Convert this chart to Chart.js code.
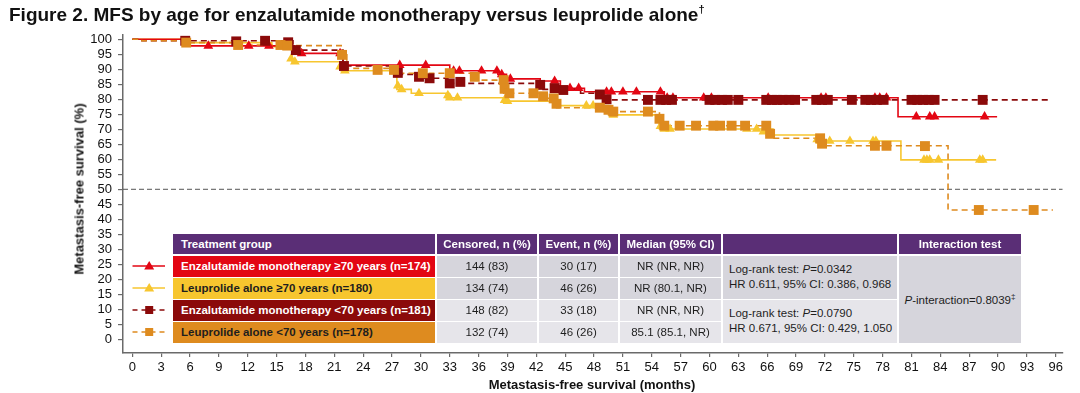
<!DOCTYPE html>
<html>
<head>
<meta charset="utf-8">
<script src="https://cdn.jsdelivr.net/npm/chart.js@4.4.1/dist/chart.umd.min.js"></script>
<style>
  html, body { margin: 0; padding: 0; background: #fff; }
  body { width: 1080px; height: 393px; position: relative; overflow: hidden; font-family: "Liberation Sans", Arial, sans-serif; }
  #c { position: absolute; left: 0; top: 0; }
  #title { position: absolute; left: 9px; top: 4px; font-size: 19px; font-weight: bold; color: #111; white-space: nowrap; }
  #title sup { font-size: 11px; position: relative; top: -1px; }
  .axt { position: absolute; font-size: 13px; font-weight: bold; color: #111; white-space: nowrap; }
  #ytitle { left: 79px; top: 189px; transform: translate(-50%, -50%) rotate(-90deg); }
  #xtitle { left: 592px; top: 384px; transform: translate(-50%, -50%); }
  .cell { position: absolute; box-sizing: border-box; font-size: 11.5px; color: #1e1e1e; display: flex; align-items: center; justify-content: center; white-space: nowrap; }
  .hdr { background: #5a2e76; color: #fff; font-weight: bold; }
  .lbl { justify-content: flex-start; padding-left: 8px; font-weight: bold; }
  .left { justify-content: flex-start; padding-left: 6px; line-height: 15px; }
  svg.leg { position: absolute; }
</style>
</head>
<body>
<canvas id="c" width="1080" height="393"></canvas>
<div id="title">Figure 2. MFS by age for enzalutamide monotherapy versus leuprolide alone<sup>†</sup></div>
<div class="axt" id="ytitle">Metastasis-free survival (%)</div>
<div class="axt" id="xtitle">Metastasis-free survival (months)</div>
<div id="table"></div>
<script>
// ---------- tick labels ----------
const xTicks = [0,3,6,9,12,15,18,21,24,27,30,33,36,39,42,45,48,51,54,57,60,63,66,69,72,75,78,81,84,87,90,93,96];
const yTicks = [0,5,10,15,20,25,30,35,40,45,50,55,60,65,70,75,80,85,90,95,100];

// ---------- KM steps (time, survival after step) ----------
// Enzalutamide monotherapy >=70
const enzaOldT = [0, 5.5, 16.8, 21.9, 33.0, 38.0, 38.9, 42.4, 44.5, 47.0, 55.3, 79.6, 89.9];
const enzaOldS = [100, 97.8, 95.3, 91.4, 89.5, 88.3, 86.8, 86.1, 83.7, 82.5, 80.5, 74.2, 74.2];
// Leuprolide alone >=70
const leupOldT = [0, 5.5, 14.5, 16.6, 21.7, 27.5, 29.0, 32.6, 38.6, 43.8, 49.5, 54.8, 66.6, 71.1, 79.9, 89.8];
const leupOldS = [100, 98.9, 97.5, 92.5, 89.5, 83.3, 82.0, 80.5, 79.4, 77.9, 74.8, 70.1, 68.1, 66.1, 59.8, 59.8];
// Enzalutamide monotherapy <70
const enzaYoungT = [0, 1.0, 16.7, 21.9, 27.5, 29.6, 32.8, 42.3, 46.6, 49.3, 95.4];
const enzaYoungS = [100, 99.5, 96.4, 91.1, 88.3, 87.0, 85.3, 83.3, 82.0, 79.8, 79.8];
// Leuprolide alone <70
const leupYoungT = [0, 1.0, 5.6, 11.0, 16.1, 21.8, 22.3, 27.5, 35.6, 38.6, 42.7, 44.1, 50.0, 54.8, 66.3, 71.5, 84.8, 95.7];
const leupYoungS = [100, 99.5, 98.9, 98.1, 97.9, 94.8, 90.3, 88.7, 86.4, 82.0, 80.3, 77.2, 75.9, 71.2, 67.0, 64.5, 43.1, 43.1];

// ---------- censor marks ----------
const enzaOldCensT = [7.9,12.1,14.2,17.6,21.6,27.8,30.5,33.4,34.0,36.3,37.9,38.4,39.3,43.9,45.5,46.4,49.3,49.8,51.0,52.4,54.9,55.6,56.2,59.4,60.2,66.1,71.6,72.1,77.2,77.7,78.4,81.5,82.9,83.4,88.6];
const enzaOldCensS = [97.8,97.8,97.8,95.3,95.3,91.4,91.4,89.5,89.5,89.5,89.5,88.3,86.8,86.1,83.7,83.7,82.5,82.5,82.5,82.5,82.5,80.5,80.5,80.5,80.5,80.5,80.5,80.5,80.5,80.5,80.5,74.2,74.2,74.2,74.2];
const leupOldCensT = [16.5,16.9,21.6,22.1,27.6,28.0,29.8,32.8,33.0,33.8,38.7,39.0,47.2,47.9,50.0,54.9,55.3,55.9,63.9,64.9,65.6,66.3,71.2,71.5,72.5,74.6,77.0,77.3,82.3,82.6,82.9,83.8,88.1,88.4];
const leupOldCensS = [93.5,92.5,90.9,89.5,84.5,83.3,82.0,81.3,80.5,80.5,79.7,79.4,77.9,77.9,74.8,71.0,70.1,70.1,70.1,70.1,69.2,68.7,66.6,66.1,66.1,66.1,66.1,66.1,59.8,59.8,59.8,59.8,59.8,59.8];
const enzaYoungCensT = [5.5,10.8,13.8,16.2,17.0,22.0,27.6,29.8,30.9,33.0,34.1,42.4,43.9,44.8,48.6,49.3,53.6,54.9,55.5,56.1,60.0,60.6,61.3,61.9,63.0,65.9,66.5,67.0,67.6,68.3,68.9,71.1,71.7,72.3,74.8,76.2,76.8,77.4,78.1,81.0,81.6,82.2,82.8,83.4,88.4];
const enzaYoungCensS = [99.5,99.3,99.5,99.0,96.4,91.1,88.8,87.5,87.0,85.3,85.8,84.8,83.7,83.1,81.6,80.0,79.8,79.8,79.8,79.8,79.8,79.8,79.8,79.8,79.8,79.8,79.8,79.8,79.8,79.8,79.8,79.8,79.8,79.8,79.8,79.8,79.8,79.8,79.8,79.8,79.8,79.8,79.8,79.8,79.8];
const leupYoungCensT = [5.6,11.0,15.4,16.1,21.8,25.5,27.2,30.2,33.0,35.6,38.6,38.7,39.2,41.7,42.7,43.8,44.1,48.6,49.5,50.0,53.6,54.8,55.3,56.9,58.6,60.4,61.1,62.3,63.7,65.9,66.3,71.5,71.7,77.2,78.4,82.4,88.0,93.7];
const leupYoungCensS = [98.9,98.1,98.1,97.9,94.8,89.8,89.8,88.7,88.7,87.5,86.4,83.5,82.0,82.0,81.0,80.3,78.5,77.2,76.5,75.9,75.9,73.5,71.2,71.2,71.2,71.2,71.2,71.2,71.2,71.2,68.5,67.0,65.2,64.5,64.5,64.4,43.1,43.1];

// reference line (50%)
const refX = [-0.97, 96.7];
const refY = [50, 50];

// ---------- table ----------
const groups = ["Enzalutamide monotherapy \u226570 years (n=174)", "Leuprolide alone \u226570 years (n=180)", "Enzalutamide monotherapy <70 years (n=181)", "Leuprolide alone <70 years (n=178)"];
const headers = ["Treatment group", "Censored, n (%)", "Event, n (%)", "Median (95% CI)", "", "Interaction test"];
const censored = ["144 (83)", "134 (74)", "148 (82)", "132 (74)"];
const events = ["30 (17)", "46 (26)", "33 (18)", "46 (26)"];
const medians = ["NR (NR, NR)", "NR (80.1, NR)", "NR (NR, NR)", "85.1 (85.1, NR)"];
const logrankP = ["0.0342", "0.0790"];
const logrankHR = ["HR 0.611, 95% CI: 0.386, 0.968", "HR 0.671, 95% CI: 0.429, 1.050"];
const interactionP = "0.8039";

// ---------- styles ----------
const RED = '#e30613', YEL = '#f7c62f', DRED = '#8b0a0a', ORG = '#de8b1f';
const colours = [RED, YEL, DRED, ORG];
const textCols = ['#fff', '#1e1e1e', '#fff', '#1e1e1e'];
const dashed = [false, false, true, true];
const shapes = ['triangle', 'triangle', 'rect', 'rect'];

function pts(t, s) { return t.map((v, i) => ({ x: v, y: s[i] })); }

function lineDs(t, s, col, dash, order) {
  return { data: pts(t, s), stepped: 'before', borderColor: col, borderWidth: dash ? 1.6 : 1.6,
           borderDash: dash ? [6, 4] : [], pointRadius: 0, fill: false, order: order };
}
function markDs(t, s, col, shape, order) {
  return { data: pts(t, s), showLine: false, pointStyle: shape, pointRadius: shape === 'rect' ? 7 : 5.6,
           pointBackgroundColor: col, pointBorderColor: col, pointBorderWidth: 0, order: order };
}

const datasets = [
  markDs(leupYoungCensT, leupYoungCensS, ORG, 'rect', 0),
  markDs(enzaYoungCensT, enzaYoungCensS, DRED, 'rect', 1),
  markDs(leupOldCensT, leupOldCensS, YEL, 'triangle', 2),
  markDs(enzaOldCensT, enzaOldCensS, RED, 'triangle', 3),
  lineDs(leupYoungT, leupYoungS, ORG, true, 4),
  lineDs(enzaYoungT, enzaYoungS, DRED, true, 5),
  lineDs(enzaOldT, enzaOldS, RED, false, 6),
  lineDs(leupOldT, leupOldS, YEL, false, 7),
  { data: pts(refX, refY), borderColor: '#555', borderWidth: 1, borderDash: [5, 3], pointRadius: 0, order: 8 }
];

const AX = '#6a6a6a';
const tickFont = { family: "'Liberation Sans', Arial, sans-serif", size: 13 };

new Chart(document.getElementById('c'), {
  type: 'line',
  data: { datasets: datasets },
  options: {
    responsive: false, animation: false, devicePixelRatio: 1,
    layout: { padding: { top: 35, right: 17, bottom: 0, left: 0 } },
    plugins: { legend: { display: false }, tooltip: { enabled: false } },
    scales: {
      x: {
        type: 'linear', min: -0.97, max: 96.75,
        afterBuildTicks: s => { s.ticks = xTicks.map(v => ({ value: v })); },
        afterFit: s => { s.height = 40; },
        ticks: { font: tickFont, color: '#111', padding: 3, maxRotation: 0, autoSkip: false },
        grid: { drawOnChartArea: false, drawTicks: true, tickLength: 4, color: AX, lineWidth: 1.2 },
        border: { color: AX, width: 1.5 }
      },
      y: {
        type: 'linear', min: -4.57, max: 101.43,
        afterBuildTicks: s => { s.ticks = yTicks.map(v => ({ value: v })); },
        afterFit: s => { s.width = 123; },
        ticks: { font: tickFont, color: '#111', padding: 6, autoSkip: false },
        grid: { drawOnChartArea: false, drawTicks: true, tickLength: 5, color: AX, lineWidth: 1.2 },
        border: { color: AX, width: 1.5 }
      }
    }
  }
});

// ---------- build table ----------
const tbl = document.getElementById('table');
const colX = [173, 437, 539, 620, 723, 899];
const colW = [262, 100, 79, 101, 174, 122];
const rowY = [256, 278, 300, 322];
const rowH = 20.5;
const GRAY1 = '#d6d5dc', GRAY2 = '#e6e5ea';

function cell(x, y, w, h, html, cls, bg, fg) {
  const d = document.createElement('div');
  d.className = 'cell ' + (cls || '');
  d.style.left = x + 'px'; d.style.top = y + 'px';
  d.style.width = w + 'px'; d.style.height = h + 'px';
  if (bg) d.style.background = bg;
  if (fg) d.style.color = fg;
  d.innerHTML = html;
  tbl.appendChild(d);
  return d;
}
headers.forEach((h, i) => cell(colX[i], 234, colW[i], 20, h, 'hdr' + (i === 0 ? ' lbl' : '')));
groups.forEach((g, r) => {
  const bg = r < 2 ? GRAY1 : GRAY2;
  cell(colX[0], rowY[r], colW[0], rowH, g, 'lbl', colours[r], textCols[r]);
  cell(colX[1], rowY[r], colW[1], rowH, censored[r], '', bg);
  cell(colX[2], rowY[r], colW[2], rowH, events[r], '', bg);
  cell(colX[3], rowY[r], colW[3], rowH, medians[r], '', bg);
});
logrankP.forEach((p, k) => {
  cell(colX[4], rowY[k * 2], colW[4], 42.5,
       '<div>Log-rank test: <i>P</i>=' + p + '<br>' + logrankHR[k] + '</div>', 'left', k === 0 ? GRAY1 : GRAY2);
});
cell(colX[5], rowY[0], colW[5], 86.5, '<span><i>P</i>-interaction=' + interactionP + '<sup style="font-size:8px">\u2021</sup></span>', '', GRAY1);

// legend icons next to the table rows
groups.forEach((g, r) => {
  const cy = rowY[r] + 10;
  const svg = document.createElementNS('http://www.w3.org/2000/svg', 'svg');
  svg.setAttribute('class', 'leg');
  svg.setAttribute('width', 40); svg.setAttribute('height', 14);
  svg.style.left = '130px'; svg.style.top = (cy - 7) + 'px';
  const ln = document.createElementNS(svg.namespaceURI, 'line');
  ln.setAttribute('x1', 2.5); ln.setAttribute('x2', 35); ln.setAttribute('y1', 7); ln.setAttribute('y2', 7);
  ln.setAttribute('stroke', colours[r]); ln.setAttribute('stroke-width', 1.6);
  if (dashed[r]) ln.setAttribute('stroke-dasharray', '5 4');
  svg.appendChild(ln);
  let mk;
  if (shapes[r] === 'rect') {
    mk = document.createElementNS(svg.namespaceURI, 'rect');
    mk.setAttribute('x', 15.2); mk.setAttribute('y', 3); mk.setAttribute('width', 8); mk.setAttribute('height', 8);
  } else {
    mk = document.createElementNS(svg.namespaceURI, 'polygon');
    mk.setAttribute('points', '19.2,2 24.2,10.5 14.2,10.5');
  }
  mk.setAttribute('fill', colours[r]);
  svg.appendChild(mk);
  document.body.appendChild(svg);
});
</script>
</body>
</html>
